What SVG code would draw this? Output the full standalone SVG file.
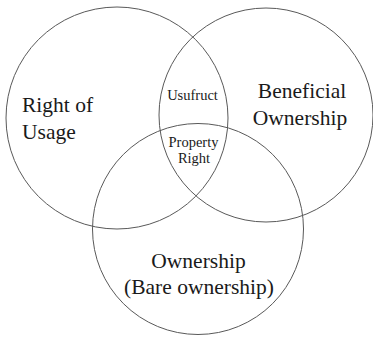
<svg xmlns="http://www.w3.org/2000/svg" width="373" height="340" viewBox="0 0 373 340">
<style>
.c{fill:none;stroke:#595959;stroke-width:1}
text{font-family:'Liberation Serif','Times New Roman',serif;fill:#1a1a1a}
.b{font-size:21.5px}
.s{font-size:14.5px}
</style>
<rect width="373" height="340" fill="#fff"/>
<g id="right-of-usage"><circle class="c" cx="117" cy="118" r="111"/>
<text class="b" x="22" y="112">Right of</text><text class="b" x="22" y="139">Usage</text></g>
<g id="beneficial-ownership"><circle class="c" cx="266" cy="115" r="107"/>
<text class="b" text-anchor="middle" x="302" y="98">Beneficial</text><text class="b" text-anchor="middle" x="300" y="125">Ownership</text></g>
<g id="ownership"><circle class="c" cx="198" cy="229" r="105.5"/>
<text class="b" text-anchor="middle" x="198.5" y="268">Ownership</text><text class="b" text-anchor="middle" x="199" y="294">(Bare ownership)</text></g>
<g id="usufruct"><text class="s" text-anchor="middle" x="192.5" y="100">Usufruct</text></g>
<g id="property-right"><text class="s" text-anchor="middle" x="193.5" y="147">Property</text><text class="s" text-anchor="middle" x="194" y="163">Right</text></g>
</svg>
